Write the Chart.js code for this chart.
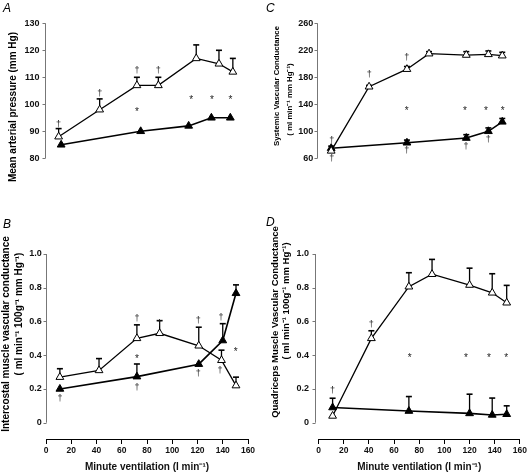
<!DOCTYPE html>
<html>
<head>
<meta charset="utf-8">
<script src="https://cdn.jsdelivr.net/npm/chart.js@4.4.1/dist/chart.umd.min.js"></script>
<style>
    html, body { margin: 0; padding: 0; background: #fff; }
    #wrap { position: relative; width: 529px; height: 473px; }
    #wrap canvas { position: absolute; left: 0; top: 0; }
</style>
</head>
<body>
<div id="wrap">
    <canvas id="cA" width="529" height="473"></canvas>
    <canvas id="cB" width="529" height="473"></canvas>
    <canvas id="cC" width="529" height="473"></canvas>
    <canvas id="cD" width="529" height="473"></canvas>
</div>
<script>
// ---- datos ----
const xTicks = [0, 20, 40, 60, 80, 100, 120, 140, 160];

// A: presión arterial media (mm Hg)
const openXA = [10, 42.5, 72, 89, 119, 137, 148];
const openYA = [88, 98, 107, 107, 117, 115, 112];
const openErrA = [3, 4, 3, 3, 5, 5, 5];
const filledXA = [12, 75, 113, 131, 146];
const filledYA = [85, 90, 92, 95, 95];
const filledErrA = [0, 0, 0, 0, 0];
const daggerXA = [10, 42.5, 72, 89];
const daggerYA = [92.8, 104.2, 112.6, 112.6];
const starXA = [72, 115, 131.5, 146];
const starYA = [98.2, 102.6, 102.6, 102.6];
const yTicksA = [80, 90, 100, 110, 120, 130];

// B: conductancia vascular intercostal
const openXB = [11, 42, 72, 90, 121, 139, 150.5];
const openYB = [0.27, 0.31, 0.50, 0.53, 0.456, 0.37, 0.22];
const openErrB = [0.05, 0.07, 0.08, 0.075, 0.11, 0.06, 0.05];
const filledXB = [11, 72, 121, 140, 150.5];
const filledYB = [0.20, 0.273, 0.347, 0.487, 0.767];
const filledErrB = [0, 0.075, 0, 0.10, 0.05];
const daggerXB = [11, 72, 72, 90, 120.6, 120.6, 138.6, 137.8];
const daggerYB = [0.145, 0.619, 0.213, 0.589, 0.609, 0.293, 0.628, 0.312];
const starXB = [72, 150.3];
const starYB = [0.395, 0.437];
const yTicksB = [0, 0.2, 0.4, 0.6, 0.8, 1.0];

// C: conductancia vascular sistémica
const openXC = [11, 41, 71, 88.5, 118, 135.5, 146.5];
const openYC = [71, 166, 192, 215, 213, 214, 212];
const openErrC = [0, 2, 4, 3, 5, 5, 5];
const filledXC = [11, 71, 118, 135.5, 146.5];
const filledYC = [75, 83, 90, 100, 114];
const filledErrC = [3, 4, 5, 5, 5];
const daggerXC = [11.4, 11.4, 41.2, 70.8, 70.8, 117.8, 135.5];
const daggerYC = [87.2, 60, 184.3, 209.5, 72.6, 78.5, 88.4];
const starXC = [70.8, 117, 133.6, 146.8];
const starYC = [133.8, 133.8, 133.8, 133.8];
const yTicksC = [60, 100, 140, 180, 220, 260];

// D: conductancia vascular del cuádriceps
const openXD = [11.2, 42, 71.8, 90.2, 120, 138, 149.5];
const openYD = [0.04, 0.50, 0.806, 0.88, 0.816, 0.77, 0.711];
const openErrD = [0, 0.045, 0.083, 0.088, 0.10, 0.113, 0.103];
const filledXD = [11.2, 71.8, 120, 138, 149.5];
const filledYD = [0.09, 0.069, 0.055, 0.046, 0.05];
const filledErrD = [0.055, 0.086, 0.114, 0.10, 0.05];
const daggerXD = [11.2, 42];
const daggerYD = [0.194, 0.583];
const starXD = [72.5, 117.1, 135.5, 149.2];
const starYD = [0.401, 0.401, 0.401, 0.401];
const yTicksD = [0, 0.2, 0.4, 0.6, 0.8, 1.0];

const FONT = '"Liberation Sans", Arial, Helvetica, sans-serif';
const SUP = '\u207B\u00B9';

function puntos(xs, ys) {
    return xs.map((x, i) => ({ x: x, y: ys[i] }));
}

// dibuja ejes, barras de error, marcas y títulos que Chart.js no hace solo
const panelPlugin = {
    id: 'panelPlugin',
    beforeDatasetsDraw(chart, args, p) {
        const ctx = chart.ctx;
        const xs = chart.scales.x, ys = chart.scales.y;
        ctx.save();
        ctx.strokeStyle = '#000';
        p.errs.forEach((errs, di) => {
            const data = chart.data.datasets[di].data;
            errs.forEach((e, i) => {
                if (!e) return;
                const px = xs.getPixelForValue(data[i].x);
                const py = ys.getPixelForValue(data[i].y);
                const pt = ys.getPixelForValue(data[i].y + e);
                ctx.lineWidth = 1.3;
                ctx.beginPath();
                ctx.moveTo(px, py);
                ctx.lineTo(px, pt);
                ctx.stroke();
                ctx.lineWidth = 1.6;
                ctx.beginPath();
                ctx.moveTo(px - 3, pt);
                ctx.lineTo(px + 3, pt);
                ctx.stroke();
            });
        });
        ctx.restore();
    },
    afterDraw(chart, args, p) {
        const ctx = chart.ctx;
        const xs = chart.scales.x, ys = chart.scales.y;
        ctx.save();

        // eje y: sólo entre el primer y el último tick
        const ax = Math.round(p.axisX) + 0.5;
        const yTop = ys.getPixelForValue(p.yTicks[p.yTicks.length - 1]);
        const yBot = ys.getPixelForValue(p.yTicks[0]);
        ctx.strokeStyle = '#777';
        ctx.lineWidth = 1;
        ctx.beginPath();
        ctx.moveTo(ax, yTop);
        ctx.lineTo(ax, yBot);
        p.yTicks.forEach(v => {
            const py = Math.round(ys.getPixelForValue(v)) + 0.5;
            ctx.moveTo(ax - 3, py);
            ctx.lineTo(ax, py);
        });
        ctx.stroke();

        // cruces (†) y asteriscos
        ctx.fillStyle = '#222';
        ctx.textAlign = 'center';
        ctx.textBaseline = 'alphabetic';
        ctx.font = '9px ' + FONT;
        p.daggerX.forEach((x, i) => {
            ctx.fillText('\u2020', xs.getPixelForValue(x), ys.getPixelForValue(p.daggerY[i]) + 3);
        });
        ctx.font = '10px ' + FONT;
        p.starX.forEach((x, i) => {
            ctx.fillText('*', xs.getPixelForValue(x), ys.getPixelForValue(p.starY[i]) + 6);
        });

        // letra del panel
        ctx.fillStyle = '#000';
        ctx.textAlign = 'left';
        ctx.font = 'italic 12px ' + FONT;
        ctx.fillText(p.letter, p.letterPos[0], p.letterPos[1]);

        // títulos del eje y (rotados)
        ctx.textAlign = 'center';
        ctx.textBaseline = 'middle';
        p.titles.forEach(t => {
            ctx.save();
            ctx.translate(t.x, t.y);
            ctx.rotate(-Math.PI / 2);
            ctx.font = 'bold ' + t.size + 'px ' + FONT;
            ctx.fillText(t.text, 0, 0);
            ctx.restore();
        });
        ctx.restore();
    }
};

function crearPanel(p) {
    const Y_W = 40, X_H = 34;
    const padding = {
        left: p.area.left - Y_W,
        right: 529 - p.area.right,
        top: p.area.top,
        bottom: 473 - p.area.bottom - (p.showX ? X_H : 0)
    };
    const decimal = p.yTicks[p.yTicks.length - 1] <= 1;

    new Chart(document.getElementById(p.id), {
        type: 'scatter',
        data: {
            datasets: [
                {
                    data: puntos(p.openX, p.openY),
                    showLine: true,
                    borderColor: '#000',
                    borderWidth: 1.3,
                    pointStyle: 'triangle',
                    pointRadius: 4.5,
                    pointBackgroundColor: '#fff',
                    pointBorderColor: '#000',
                    pointBorderWidth: 1,
                    clip: false
                },
                {
                    data: puntos(p.filledX, p.filledY),
                    showLine: true,
                    borderColor: '#000',
                    borderWidth: 1.6,
                    pointStyle: 'triangle',
                    pointRadius: 4.5,
                    pointBackgroundColor: '#000',
                    pointBorderColor: '#000',
                    pointBorderWidth: 1,
                    clip: false
                }
            ]
        },
        options: {
            responsive: false,
            animation: false,
            events: [],
            layout: { padding: padding },
            plugins: {
                legend: { display: false },
                tooltip: { enabled: false },
                panelPlugin: p
            },
            scales: {
                x: {
                    type: 'linear',
                    display: p.showX,
                    min: 0,
                    max: 160,
                    afterBuildTicks: s => { s.ticks = xTicks.map(v => ({ value: v })); },
                    afterFit: s => { s.height = X_H; },
                    border: { display: true, color: '#000', width: 1 },
                    grid: { drawOnChartArea: false, drawTicks: true, tickLength: 5, color: '#000' },
                    ticks: { font: { family: FONT, size: 8.5, weight: 'bold' }, color: '#111', padding: 2, maxRotation: 0 },
                    title: {
                        display: true,
                        text: 'Minute ventilation (l min' + SUP + ')',
                        font: { family: FONT, size: 10, weight: 'bold' },
                        color: '#111',
                        padding: { top: 0, bottom: 0 }
                    }
                },
                y: {
                    type: 'linear',
                    min: p.yMin,
                    max: p.yMax,
                    afterBuildTicks: s => { s.ticks = p.yTicks.map(v => ({ value: v })); },
                    afterFit: s => { s.width = Y_W; },
                    border: { display: false },
                    grid: { display: false, drawTicks: false },
                    ticks: {
                        font: { family: FONT, size: 9, weight: 'bold' },
                        color: '#111',
                        padding: p.labelPad,
                        callback: v => decimal ? (v === 0 ? '0' : v.toFixed(1)) : String(v)
                    }
                }
            }
        },
        plugins: [panelPlugin]
    });
}

const BOTTOM_MIN = -(439 - 422.7) / (422.7 - 254);

crearPanel({
    id: 'cA', letter: 'A', letterPos: [3, 12],
    area: { left: 46, right: 248, top: 23.3, bottom: 192.3 },
    yMin: 80, yMax: 130, yTicks: yTicksA, axisX: 45, labelPad: 6.5, showX: false,
    openX: openXA, openY: openYA, filledX: filledXA, filledY: filledYA,
    errs: [openErrA, filledErrA],
    daggerX: daggerXA, daggerY: daggerYA, starX: starXA, starY: starYA,
    titles: [{ text: 'Mean arterial pressure (mm Hg)', x: 13, y: 107, size: 10 }]
});

crearPanel({
    id: 'cC', letter: 'C', letterPos: [266, 12],
    area: { left: 317.3, right: 519.3, top: 23.3, bottom: 192.3 },
    yMin: 60, yMax: 260, yTicks: yTicksC, axisX: 317, labelPad: 4, showX: false,
    openX: openXC, openY: openYC, filledX: filledXC, filledY: filledYC,
    errs: [openErrC, filledErrC],
    daggerX: daggerXC, daggerY: daggerYC, starX: starXC, starY: starYC,
    titles: [
        { text: 'Systemic Vascular Conductance', x: 277, y: 86, size: 7.8 },
        { text: '( ml min' + SUP + ' mm Hg' + SUP + ')', x: 290, y: 99.5, size: 7.8 }
    ]
});

crearPanel({
    id: 'cB', letter: 'B', letterPos: [3, 228],
    area: { left: 46, right: 248, top: 254, bottom: 439 },
    yMin: BOTTOM_MIN, yMax: 1.0, yTicks: yTicksB, axisX: 46, labelPad: 4.3, showX: true,
    openX: openXB, openY: openYB, filledX: filledXB, filledY: filledYB,
    errs: [openErrB, filledErrB],
    daggerX: daggerXB, daggerY: daggerYB, starX: starXB, starY: starYB,
    titles: [
        { text: 'Intercostal muscle vascular conductance', x: 6, y: 334, size: 10 },
        { text: '( ml min' + SUP + ' 100g' + SUP + ' mm Hg' + SUP + ')', x: 19, y: 314, size: 10 }
    ]
});

crearPanel({
    id: 'cD', letter: 'D', letterPos: [266, 226],
    area: { left: 318.5, right: 521, top: 254, bottom: 439 },
    yMin: BOTTOM_MIN, yMax: 1.0, yTicks: yTicksD, axisX: 314.5, labelPad: 9.5, showX: true,
    openX: openXD, openY: openYD, filledX: filledXD, filledY: filledYD,
    errs: [openErrD, filledErrD],
    daggerX: daggerXD, daggerY: daggerYD, starX: starXD, starY: starYD,
    titles: [
        { text: 'Quadriceps Muscle Vascular Conductance', x: 275, y: 322, size: 9.5 },
        { text: '( ml min' + SUP + ' 100g' + SUP + ' mm Hg' + SUP + ')', x: 286, y: 301, size: 9.5 }
    ]
});
</script>
</body>
</html>
